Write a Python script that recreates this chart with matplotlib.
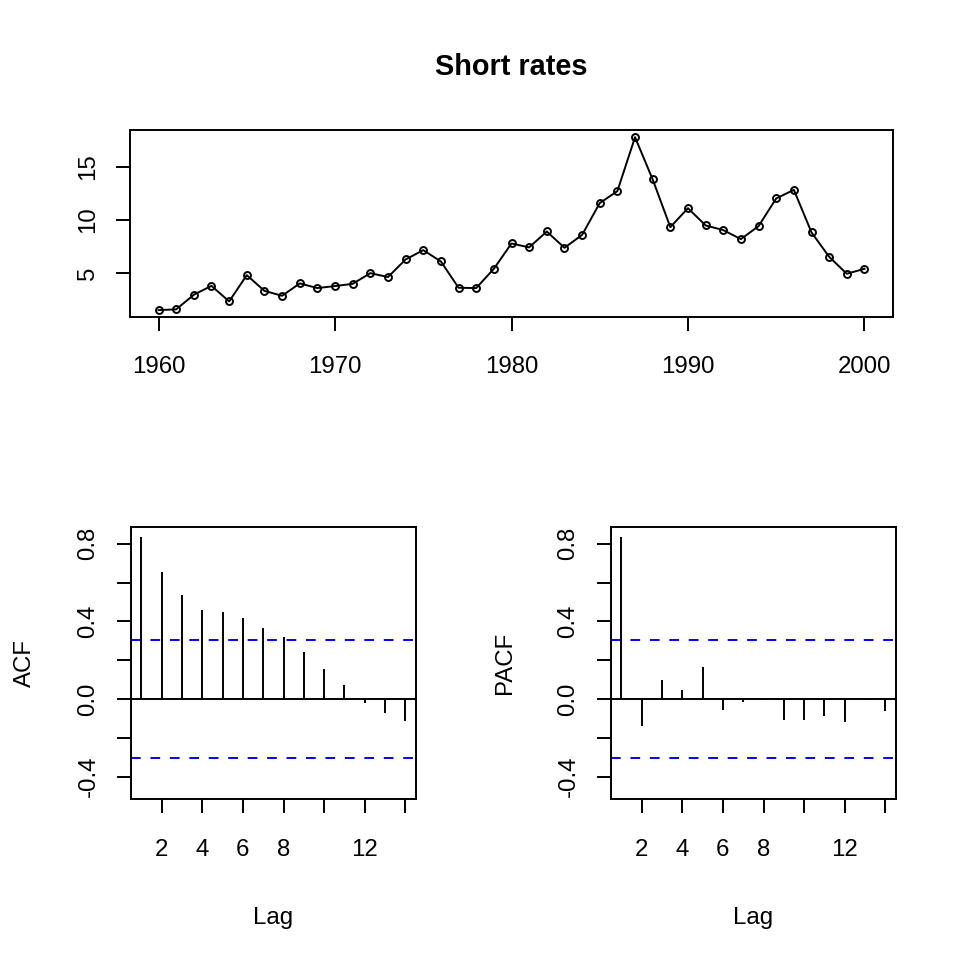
import matplotlib
matplotlib.use("Agg")
import matplotlib.pyplot as plt
import numpy as np

plt.rcParams['font.family'] = ['Liberation Sans', 'DejaVu Sans']

years = list(range(1960, 2001))
rates = [1.48, 1.55, 2.93, 3.77, 2.30, 4.78, 3.30, 2.83, 4.00, 3.56,
         3.75, 3.96, 4.97, 4.60, 6.26, 7.14, 6.07, 3.59, 3.56, 5.38,
         7.77, 7.40, 8.90, 7.36, 8.58, 11.58, 12.71, 17.80, 13.81, 9.31,
         11.10, 9.47, 9.03, 8.18, 9.41, 12.02, 12.83, 8.81, 6.51, 4.91,
         5.38]
lags = list(range(1, 15))
acf_vals = [0.833, 0.653, 0.534, 0.460, 0.447, 0.416, 0.366, 0.318, 0.241,
            0.153, 0.072, -0.022, -0.074, -0.112]
pacf_vals = [0.833, -0.139, 0.100, 0.045, 0.167, -0.058, -0.017, -0.003,
             -0.108, -0.110, -0.088, -0.120, -0.005, -0.060]
conf = 0.306

top_xticks = [1960, 1970, 1980, 1990, 2000]
top_yticks = [5, 10, 15]
lag_ticks = [2, 4, 6, 8, 10, 12, 14]
lag_labels = ['2', '4', '6', '8', '', '12', '']
cor_ticks = [-0.4, -0.2, 0.0, 0.2, 0.4, 0.6, 0.8]
cor_labels = ['-0.4', '', '0.0', '', '0.4', '', '0.8']

W = 960.0
FS = 17.3
LW = 1.4

fig = plt.figure(figsize=(9.6, 9.6), dpi=100)

def rect(l, r, t, b):
    return [l / W, 1 - b / W, (r - l) / W, (b - t) / W]

def style(ax):
    for s in ax.spines.values():
        s.set_linewidth(LW)
        s.set_color('black')
    ax.tick_params(direction='out', length=10.4, width=LW, labelsize=FS,
                   colors='black')
    ax.tick_params(axis='x', pad=18)
    ax.tick_params(axis='y', pad=12)
    for lab in ax.get_yticklabels():
        lab.set_rotation(90)
        lab.set_va('center')

# Top plot
ax1 = fig.add_axes(rect(130.3, 892.7, 130.3, 317))
ax1.plot(years, rates, color='black', lw=LW, marker='o', markersize=5,
         markerfacecolor='none', markeredgecolor='black', markeredgewidth=LW)
ax1.set_xlim(1958.4, 2001.6)
ax1.set_ylim(0.83, 18.45)
ax1.set_xticks(top_xticks)
ax1.set_yticks(top_yticks)
style(ax1)
ax1.set_title('Short rates', fontsize=FS * 1.2, fontweight='bold', pad=40)

def corplot(ax, vals, ylabel):
    ax.vlines(lags, 0, vals, color='black', lw=LW)
    ax.axhline(0, color='black', lw=LW)
    ax.axhline(conf, color='blue', lw=LW, linestyle=(0, (5, 5)))
    ax.axhline(-conf, color='blue', lw=LW, linestyle=(0, (5, 5)))
    ax.set_xlim(0.48, 14.52)
    ax.set_ylim(-0.517, 0.885)
    ax.set_xticks(lag_ticks)
    ax.set_xticklabels(lag_labels)
    ax.set_yticks(cor_ticks)
    ax.set_yticklabels(cor_labels)
    style(ax)
    ax.set_xlabel('Lag', fontsize=FS, labelpad=33)
    ax.set_ylabel(ylabel, fontsize=FS, labelpad=30)

ax2 = fig.add_axes(rect(130.7, 416, 527.3, 799.3))
corplot(ax2, acf_vals, 'ACF')
ax3 = fig.add_axes(rect(610.7, 896, 527.3, 799.3))
corplot(ax3, pacf_vals, 'PACF')

fig.savefig('out.png', dpi=100, facecolor='white')
